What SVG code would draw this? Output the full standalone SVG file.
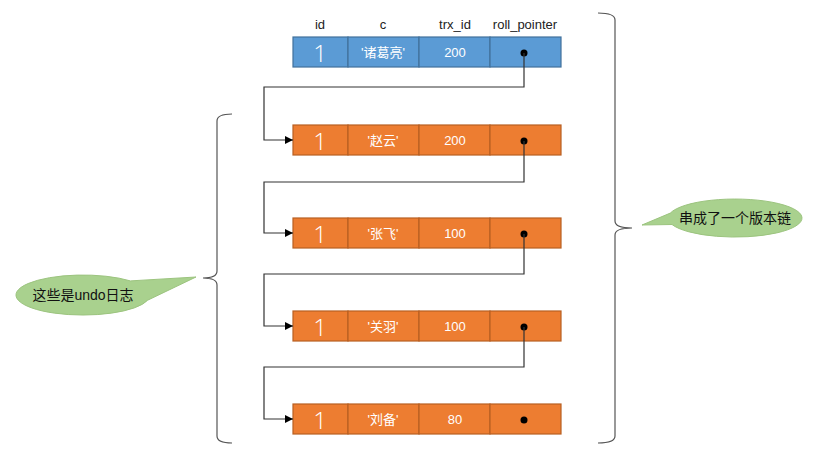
<svg xmlns="http://www.w3.org/2000/svg" width="814" height="460" viewBox="0 0 814 460">
<defs>
<style>
.blue{fill:#5B9BD5;stroke:#41719C;stroke-width:1.2}
.orange{fill:#ED7D31;stroke:#B85F22;stroke-width:1.2}
.t{font-family:"Liberation Sans","Noto Sans CJK SC",sans-serif;fill:#fff;font-size:13px;text-anchor:middle;dominant-baseline:central}
.one{font-family:"Open Sans","Liberation Sans",sans-serif;font-weight:300;font-size:24px;fill:#fff;text-anchor:middle;dominant-baseline:central}
.hdr{font-family:"Liberation Sans",sans-serif;font-size:13px;fill:#222;text-anchor:middle}
.dot{fill:#000}
.conn{fill:none;stroke:#333;stroke-width:1.2}
.brace{fill:none;stroke:#555;stroke-width:1.2}
.bubble{fill:#A9D18E;stroke:#9CC47F;stroke-width:1}
.bt{font-family:"Liberation Sans","Noto Sans CJK SC",sans-serif;font-size:14px;fill:#111;text-anchor:middle;dominant-baseline:central}
</style>
<marker id="arr" viewBox="0 0 10 10" refX="10" refY="5" markerWidth="8" markerHeight="8" markerUnits="userSpaceOnUse" orient="auto">
<path d="M0,0 L10,5 L0,10 z" fill="#000"/>
</marker>
</defs>
<g id="headers">
<text class="hdr" x="320" y="29">id</text>
<text class="hdr" x="383" y="29">c</text>
<text class="hdr" x="455" y="29">trx_id</text>
<text class="hdr" x="525" y="29">roll_pointer</text>
</g>
<g id="row1">
<rect class="blue" x="293" y="37" width="55" height="30"/>
<rect class="blue" x="348" y="37" width="71" height="30"/>
<rect class="blue" x="419" y="37" width="71" height="30"/>
<rect class="blue" x="490" y="37" width="71" height="30"/>
<text class="one" x="320" y="52">1</text>
<text class="t" x="383" y="52">'诸葛亮'</text>
<text class="t" x="455" y="52">200</text>
<circle class="dot" cx="524" cy="53" r="3.5"/>
</g>
<g id="row2">
<rect class="orange" x="293" y="125" width="55" height="30"/>
<rect class="orange" x="348" y="125" width="71" height="30"/>
<rect class="orange" x="419" y="125" width="71" height="30"/>
<rect class="orange" x="490" y="125" width="71" height="30"/>
<text class="one" x="320" y="140">1</text>
<text class="t" x="383" y="140">'赵云'</text>
<text class="t" x="455" y="140">200</text>
<circle class="dot" cx="524" cy="141" r="3.5"/>
</g>
<g id="row3">
<rect class="orange" x="293" y="218" width="55" height="30"/>
<rect class="orange" x="348" y="218" width="71" height="30"/>
<rect class="orange" x="419" y="218" width="71" height="30"/>
<rect class="orange" x="490" y="218" width="71" height="30"/>
<text class="one" x="320" y="233">1</text>
<text class="t" x="383" y="233">'张飞'</text>
<text class="t" x="455" y="233">100</text>
<circle class="dot" cx="524" cy="234" r="3.5"/>
</g>
<g id="row4">
<rect class="orange" x="293" y="311" width="55" height="30"/>
<rect class="orange" x="348" y="311" width="71" height="30"/>
<rect class="orange" x="419" y="311" width="71" height="30"/>
<rect class="orange" x="490" y="311" width="71" height="30"/>
<text class="one" x="320" y="326">1</text>
<text class="t" x="383" y="326">'关羽'</text>
<text class="t" x="455" y="326">100</text>
<circle class="dot" cx="524" cy="327" r="3.5"/>
</g>
<g id="row5">
<rect class="orange" x="293" y="404" width="55" height="30"/>
<rect class="orange" x="348" y="404" width="71" height="30"/>
<rect class="orange" x="419" y="404" width="71" height="30"/>
<rect class="orange" x="490" y="404" width="71" height="30"/>
<text class="one" x="320" y="419">1</text>
<text class="t" x="383" y="419">'刘备'</text>
<text class="t" x="455" y="419">80</text>
<circle class="dot" cx="524" cy="420" r="3.5"/>
</g>
<g id="connectors">
<path class="conn" d="M524,53 V87 H264 V140 H293" marker-end="url(#arr)"/>
<path class="conn" d="M524,141 V182 H264 V233 H293" marker-end="url(#arr)"/>
<path class="conn" d="M524,234 V274 H264 V326 H293" marker-end="url(#arr)"/>
<path class="conn" d="M524,327 V367 H264 V419 H293" marker-end="url(#arr)"/>
</g>
<g id="left-brace">
<path class="brace" d="M232,114 Q217,114 217,121 V271 Q217,278 203,278 Q217,278 217,285 V436 Q217,443 232,443"/>
</g>
<g id="right-brace">
<path class="brace" d="M598,13 Q615,13 615,20 V221 Q615,228 632,228 Q615,228 615,235 V436 Q615,443 598,443"/>
</g>
<g id="callout-left">
<path class="bubble" d="M130.4,280.9 L196,277 L147.7,300.2 A67,20 0 1 1 130.4,280.9 Z"/>
<text class="bt" x="83" y="295">这些是undo日志</text>
</g>
<g id="callout-right">
<path class="bubble" d="M670.3,213.1 A67,19 0 1 1 672,224.5 L642,225 Z"/>
<text class="bt" x="735" y="218">串成了一个版本链</text>
</g>
</svg>
